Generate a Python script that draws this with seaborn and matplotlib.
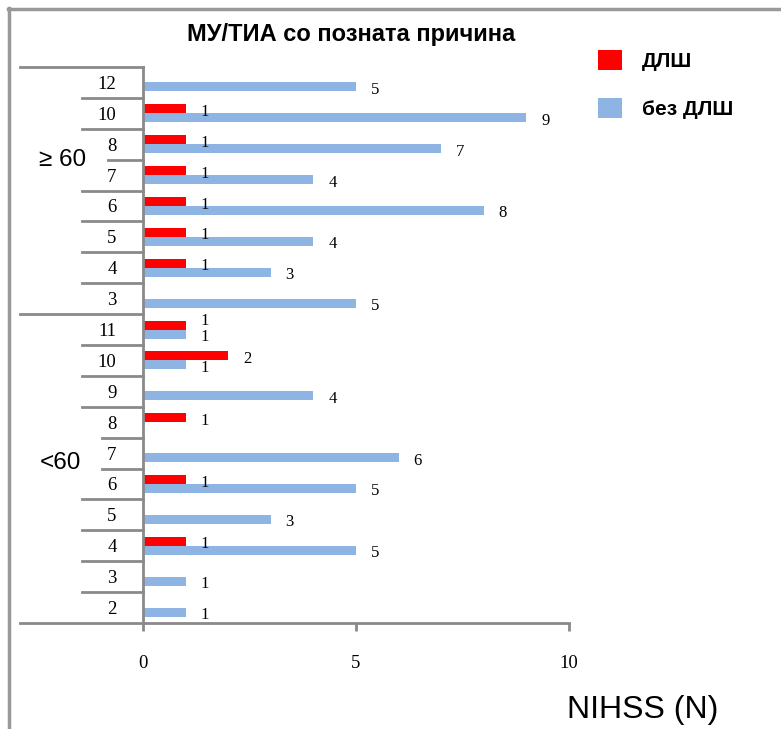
import numpy as np
import pandas as pd
import matplotlib
matplotlib.use("Agg")
import matplotlib.pyplot as plt
import matplotlib.transforms as mtransforms
from matplotlib.lines import Line2D
from matplotlib.patches import Patch
import seaborn as sns

# ---------------- data ----------------
groups = ["≥ 60"] * 8 + ["<60"] * 10
nihss = ["12", "10", "8", "7", "6", "5", "4", "3",
         "11", "10", "9", "8", "7", "6", "5", "4", "3", "2"]
dlsh = [0, 1, 1, 1, 1, 1, 1, 0, 1, 2, 0, 1, 0, 1, 0, 1, 0, 0]
bez_dlsh = [5, 9, 7, 4, 8, 4, 3, 5, 1, 1, 4, 0, 6, 5, 3, 5, 1, 1]
series = ["ДЛШ", "без ДЛШ"]
colors = ["#FF0000", "#8DB4E2"]
x_ticks = [0, 5, 10]
title = "МУ/ТИА со позната причина"
x_label = "NIHSS (N)"

keys = [f"{g} {n}" for g, n in zip(groups, nihss)]
df = pd.DataFrame({
    "key": keys * 2,
    "series": [series[0]] * len(keys) + [series[1]] * len(keys),
    "value": dlsh + bez_dlsh,
})

SANS = "Liberation Sans"
SERIF = "Liberation Serif"
GRAY = "#8a8a8a"

W, H = 781, 729
fig = plt.figure(figsize=(W / 100, H / 100), dpi=100)
fig.patch.set_facecolor("white")

def fx(px):
    return px / W

def fy(py):
    return 1 - py / H

ax = fig.add_axes([fx(143), fy(623), (569 - 143) / W, (623 - 67) / H])
sns.barplot(data=df, y="key", x="value", hue="series", hue_order=series,
            order=keys, palette=colors, width=0.58, orient="h",
            saturation=1, legend=False, ax=ax)

ax.set_xlim(0, 10)
ax.set_ylim(len(keys) - 0.5, -0.5)
ax.set_xlabel("")
ax.set_ylabel("")
for s in ["top", "right"]:
    ax.spines[s].set_visible(False)
for s in ["left", "bottom"]:
    ax.spines[s].set_color(GRAY)
    ax.spines[s].set_linewidth(2)

ax.set_xticks(x_ticks)
ax.set_xticklabels([str(t) for t in x_ticks], fontfamily=SERIF, fontsize=13.5)
ax.tick_params(axis="x", direction="out", length=6, width=2, color=GRAY, pad=17)
ax.set_yticks(range(len(keys)))
ax.set_yticklabels(nihss, fontfamily=SERIF, fontsize=13.5)
ax.tick_params(axis="y", length=0, pad=19)

# data labels (red label moved up when it would collide with the blue one)
for si, (cont, vals) in enumerate(zip(ax.containers, [dlsh, bez_dlsh])):
    for i, (bar, v) in enumerate(zip(cont, vals)):
        if v > 0:
            dy = -3
            if si == 0 and dlsh[i] == bez_dlsh[i]:
                dy = 4
            ax.annotate(str(v), xy=(bar.get_width(), bar.get_y() + bar.get_height() / 2),
                        xytext=(19, dy), textcoords="offset pixels",
                        ha="center", va="center", fontsize=12, fontfamily=SERIF)

# multi-level category separators
tr = mtransforms.blended_transform_factory(fig.transFigure, ax.transData)
short_start = {2.5: 108, 11.5: 102, 12.5: 102}
for i in range(1, len(keys)):
    yb = i - 0.5
    if groups[i] != groups[i - 1]:
        continue
    x0 = short_start.get(yb, 82)
    ax.add_line(Line2D([fx(x0), fx(143)], [yb, yb], transform=tr, color=GRAY,
                       lw=2, clip_on=False))
for yb in [-0.5, 7.5, len(keys) - 0.5]:
    ax.add_line(Line2D([fx(20), fx(143)], [yb, yb], transform=tr, color=GRAY,
                       lw=2, clip_on=False))

# group labels
fig.text(fx(63), fy(160), "≥ 60", ha="center", va="center", fontsize=17.5, fontfamily=SANS)
fig.text(fx(60), fy(463), "<60", ha="center", va="center", fontsize=17.5, fontfamily=SANS)

# title & axis label
fig.text(fx(351), fy(34), title, ha="center", va="center", fontsize=17,
         fontweight="bold", fontfamily=SANS)
fig.text(fx(643), fy(710), x_label, ha="center", va="center", fontsize=23, fontfamily=SANS)

# legend
handles = [Patch(facecolor=c, edgecolor="none", label=s) for c, s in zip(colors, series)]
fig.legend(handles=handles, loc="upper left", bbox_to_anchor=(fx(598), fy(50)),
           bbox_transform=fig.transFigure, frameon=False, borderpad=0, borderaxespad=0,
           handlelength=1.17, handleheight=1.1, labelspacing=1.3, handletextpad=0.95,
           prop={"family": SANS, "weight": "bold", "size": 15})

# outer frame (top and left edges visible)
fig.add_artist(Line2D([fx(8), 1], [fy(9), fy(9)], transform=fig.transFigure, color="#999999", lw=2.5))
fig.add_artist(Line2D([fx(9), fx(9)], [fy(8), 0], transform=fig.transFigure, color="#999999", lw=2.5))

fig.savefig("out.png", dpi=100)
